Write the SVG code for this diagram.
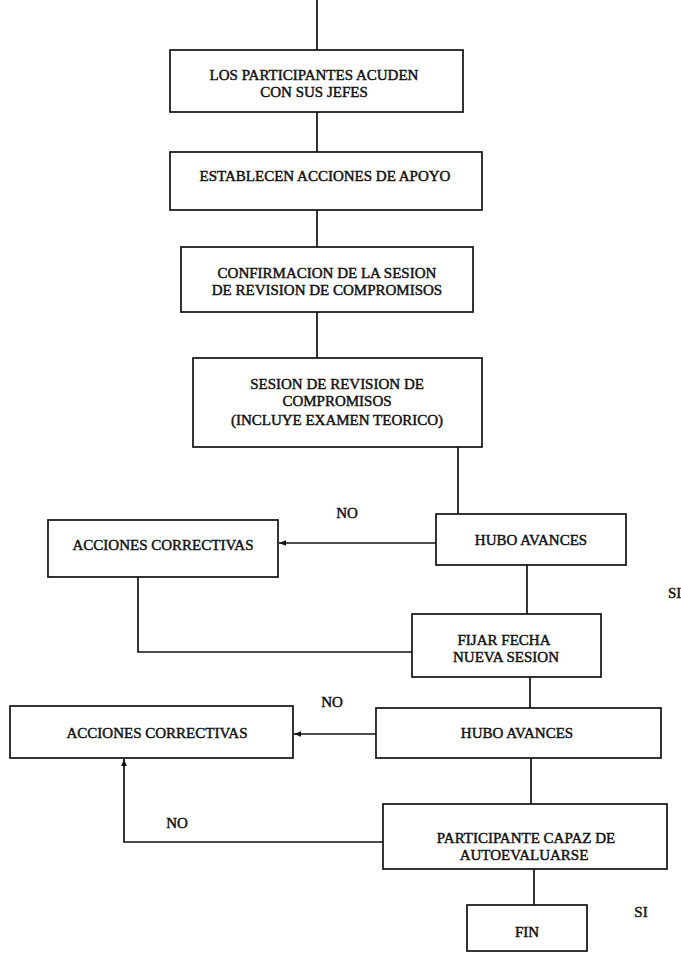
<svg xmlns="http://www.w3.org/2000/svg" width="681" height="953" viewBox="0 0 681 953">
<defs>
<style>
.box{fill:#fff;stroke:#111;stroke-width:1.7}
.ln{fill:none;stroke:#111;stroke-width:1.7}
.t{font-family:"Liberation Serif","Times New Roman",serif;font-size:15px;fill:#111;stroke:#111;stroke-width:0.45;text-anchor:middle}
.lbl{font-family:"Liberation Serif","Times New Roman",serif;font-size:15px;fill:#111;stroke:#111;stroke-width:0.45;text-anchor:middle}
</style>
<marker id="ah" viewBox="0 0 10 10" refX="10" refY="5" markerWidth="7" markerHeight="7" orient="auto" markerUnits="userSpaceOnUse">
<path d="M0,1 L10,5 L0,9 z" fill="#111"/>
</marker>
</defs>
<rect width="681" height="953" fill="#fff"/>
<g id="connectors">
<path class="ln" d="M317,0 V50"/>
<path class="ln" d="M317,112 V152"/>
<path class="ln" d="M317,210 V247"/>
<path class="ln" d="M317,312 V358"/>
<path class="ln" d="M458,447 V514"/>
<path class="ln" d="M436,543 H279" marker-end="url(#ah)"/>
<path class="ln" d="M527,565 V614"/>
<path class="ln" d="M138,577 V652 H412"/>
<path class="ln" d="M530,677 V708"/>
<path class="ln" d="M376,734 H294" marker-end="url(#ah)"/>
<path class="ln" d="M531,758 V804"/>
<path class="ln" d="M383,842 H124 V759" marker-end="url(#ah)"/>
<path class="ln" d="M534,869 V905"/>
</g>
<g id="labels">
<text class="lbl" x="347" y="518">NO</text>
<text class="lbl" x="668" y="598" style="text-anchor:start">SI</text>
<text class="lbl" x="332" y="707">NO</text>
<text class="lbl" x="177" y="828">NO</text>
<text class="lbl" x="641" y="917">SI</text>
</g>
<g id="n1">
<rect class="box" x="170" y="50" width="293" height="62"/>
<text class="t" x="314" y="80">LOS PARTICIPANTES ACUDEN</text>
<text class="t" x="314" y="97">CON SUS JEFES</text>
</g>
<g id="n2">
<rect class="box" x="170" y="152" width="312" height="58"/>
<text class="t" x="325" y="181">ESTABLECEN ACCIONES DE APOYO</text>
</g>
<g id="n3">
<rect class="box" x="181" y="247" width="292" height="65"/>
<text class="t" x="327" y="278">CONFIRMACION DE LA SESION</text>
<text class="t" x="327" y="295">DE REVISION DE COMPROMISOS</text>
</g>
<g id="n4">
<rect class="box" x="193" y="358" width="289" height="89"/>
<text class="t" x="337" y="389">SESION DE REVISION DE</text>
<text class="t" x="337" y="406">COMPROMISOS</text>
<text class="t" x="337" y="425">(INCLUYE EXAMEN TEORICO)</text>
</g>
<g id="n5">
<rect class="box" x="48" y="520" width="230" height="57"/>
<text class="t" x="163" y="550">ACCIONES CORRECTIVAS</text>
</g>
<g id="n6">
<rect class="box" x="436" y="514" width="190" height="51"/>
<text class="t" x="531" y="545">HUBO AVANCES</text>
</g>
<g id="n7">
<rect class="box" x="412" y="614" width="189" height="63"/>
<text class="t" x="504" y="645">FIJAR FECHA</text>
<text class="t" x="506" y="662">NUEVA SESION</text>
</g>
<g id="n8">
<rect class="box" x="10" y="706" width="283" height="52"/>
<text class="t" x="157" y="738">ACCIONES CORRECTIVAS</text>
</g>
<g id="n9">
<rect class="box" x="376" y="708" width="285" height="50"/>
<text class="t" x="517" y="738">HUBO AVANCES</text>
</g>
<g id="n10">
<rect class="box" x="383" y="804" width="284" height="65"/>
<text class="t" x="526" y="843">PARTICIPANTE CAPAZ DE</text>
<text class="t" x="524" y="860">AUTOEVALUARSE</text>
</g>
<g id="n11">
<rect class="box" x="467" y="905" width="120" height="46"/>
<text class="t" x="527" y="937">FIN</text>
</g>
</svg>
